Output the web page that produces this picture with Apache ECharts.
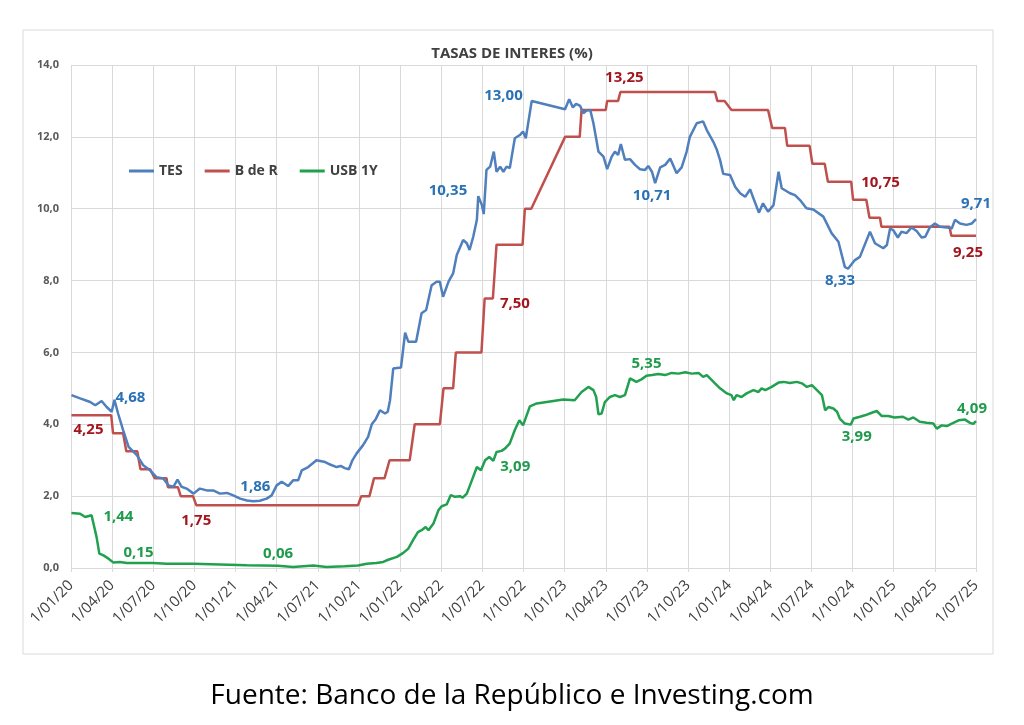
<!DOCTYPE html>
<html>
<head>
<meta charset="utf-8">
<title>Tasas de interés</title>
<script src="https://cdn.jsdelivr.net/npm/echarts@6/dist/echarts.min.js"></script>
<style>
html, body { margin: 0; padding: 0; background: #fff; }
#chart { width: 1024px; height: 725px; }
</style>
</head>
<body>
<div id="chart"></div>
<script>
// TES (rendimiento), observaciones
var tesDates = [
	'2020-01-02','2020-01-21','2020-02-13','2020-02-24','2020-03-08','2020-03-19','2020-03-30','2020-04-06','2020-04-14','2020-04-25',
	'2020-05-07','2020-05-25','2020-06-09','2020-06-24','2020-07-08','2020-07-23','2020-08-04','2020-08-15','2020-08-24','2020-09-03',
	'2020-09-14','2020-09-29','2020-10-13','2020-10-28','2020-11-12','2020-11-27','2020-12-12','2020-12-26','2021-01-11','2021-01-26',
	'2021-02-10','2021-02-24','2021-03-09','2021-03-20','2021-04-01','2021-04-12','2021-04-26','2021-05-07','2021-05-18','2021-05-26',
	'2021-06-10','2021-06-28','2021-07-17','2021-07-28','2021-08-12','2021-08-21','2021-08-30','2021-09-09','2021-09-16','2021-09-26',
	'2021-10-10','2021-10-21','2021-10-29','2021-11-08','2021-11-17','2021-11-28','2021-12-04','2021-12-09','2021-12-16','2022-01-03',
	'2022-01-12','2022-01-19','2022-02-06','2022-02-18','2022-02-28','2022-03-10','2022-03-21','2022-03-28','2022-04-05','2022-04-17',
	'2022-04-27','2022-05-05','2022-05-19','2022-05-27','2022-06-03','2022-06-11','2022-06-19','2022-06-22','2022-06-30','2022-07-04',
	'2022-07-10','2022-07-18','2022-07-26','2022-08-02','2022-08-10','2022-08-17','2022-08-24','2022-09-01','2022-09-12','2022-09-23',
	'2022-09-30','2022-10-06','2022-10-19','2023-01-02','2023-01-11','2023-01-19','2023-01-26','2023-02-05','2023-02-12','2023-02-19',
	'2023-02-27','2023-03-04','2023-03-15','2023-03-26','2023-04-04','2023-04-14','2023-04-21','2023-04-28','2023-05-04','2023-05-13',
	'2023-05-24','2023-06-05','2023-06-16','2023-06-27','2023-07-04','2023-07-12','2023-07-19','2023-07-30','2023-08-11','2023-08-22',
	'2023-09-06','2023-09-17','2023-09-28','2023-10-05','2023-10-20','2023-11-04','2023-11-12','2023-11-26','2023-12-04','2023-12-11',
	'2023-12-18','2024-01-03','2024-01-14','2024-01-25','2024-02-06','2024-02-17','2024-02-24','2024-03-06','2024-03-15','2024-03-26',
	'2024-04-08','2024-04-19','2024-04-26','2024-05-14','2024-05-25','2024-06-06','2024-06-20','2024-07-05','2024-07-27','2024-08-15',
	'2024-08-30','2024-09-14','2024-09-21','2024-10-06','2024-10-17','2024-11-09','2024-11-20','2024-12-08','2024-12-16','2024-12-23',
	'2024-12-30','2025-01-10','2025-01-18','2025-01-29','2025-02-10','2025-02-21','2025-03-02','2025-03-10','2025-03-20','2025-04-01',
	'2025-04-12','2025-04-27','2025-05-08','2025-05-15','2025-05-26','2025-06-10','2025-06-22','2025-07-01'
];
var tesValues = [
	4.81, 4.72, 4.62, 4.53, 4.65, 4.48, 4.35, 4.68, 4.30, 3.84,
	3.37, 3.14, 2.86, 2.72, 2.53, 2.49, 2.30, 2.26, 2.46, 2.26,
	2.21, 2.07, 2.21, 2.16, 2.16, 2.07, 2.09, 2.02, 1.93, 1.88,
	1.86, 1.87, 1.93, 2.02, 2.30, 2.40, 2.28, 2.44, 2.44, 2.72,
	2.81, 3.00, 2.95, 2.88, 2.81, 2.84, 2.78, 2.75, 2.98, 3.19,
	3.42, 3.65, 4.00, 4.15, 4.39, 4.30, 4.35, 4.67, 5.55, 5.58,
	6.55, 6.30, 6.30, 7.09, 7.18, 7.87, 7.97, 7.97, 7.55, 7.97,
	8.20, 8.71, 9.13, 9.04, 8.85, 9.22, 9.69, 10.35, 10.10, 9.85,
	11.08, 11.17, 11.59, 11.03, 11.17, 11.03, 11.17, 11.13, 11.96, 12.05,
	12.15, 11.96, 13.00, 12.77, 13.05, 12.82, 12.92, 12.86, 12.66, 12.73,
	12.75, 12.38, 11.59, 11.45, 11.10, 11.45, 11.59, 11.50, 11.80, 11.36,
	11.38, 11.22, 11.10, 11.08, 11.19, 11.03, 10.71, 11.15, 11.22, 11.40,
	10.99, 11.15, 11.59, 12.00, 12.38, 12.43, 12.19, 11.87, 11.64, 11.36,
	10.97, 10.94, 10.61, 10.43, 10.33, 10.54, 10.29, 9.89, 10.15, 9.92,
	10.10, 11.03, 10.57, 10.43, 10.38, 10.24, 10.01, 9.98, 9.78, 9.32,
	9.08, 8.38, 8.33, 8.57, 8.66, 9.36, 9.04, 8.90, 8.99, 9.45,
	9.40, 9.20, 9.36, 9.32, 9.48, 9.38, 9.20, 9.22, 9.48, 9.59,
	9.50, 9.48, 9.45, 9.69, 9.59, 9.55, 9.59, 9.71
];
var tesLabelDates = ['2020-04-06', '2021-02-10', '2022-06-22', '2022-10-19', '2023-07-19', '2024-09-21', '2025-07-01'];

// Tasa de política del Banco de la República
var bdrDates = [
	'2020-01-02','2020-03-29','2020-04-03','2020-04-25','2020-05-02','2020-05-26','2020-06-03','2020-06-24','2020-07-04','2020-07-30',
	'2020-08-03','2020-08-25','2020-09-01','2020-09-28','2020-10-05','2021-09-29','2021-10-06','2021-10-24','2021-11-04','2021-11-27',
	'2021-12-08','2022-01-22','2022-02-03','2022-03-28','2022-04-06','2022-04-27','2022-05-03','2022-06-29','2022-07-06','2022-07-24',
	'2022-08-02','2022-09-29','2022-10-04','2022-10-18','2023-01-02','2023-02-04','2023-02-08','2023-04-01','2023-04-04','2023-04-28',
	'2023-05-03','2023-11-30','2023-12-05','2023-12-21','2024-01-06','2024-03-26','2024-04-05','2024-05-03','2024-05-08','2024-06-27',
	'2024-07-03','2024-07-30','2024-08-07','2024-09-28','2024-10-02','2024-11-01','2024-11-08','2024-12-01','2024-12-04','2025-05-03',
	'2025-05-07','2025-07-01'
];
var bdrValues = [
	4.25, 4.25, 3.75, 3.75, 3.25, 3.25, 2.75, 2.75, 2.50, 2.50,
	2.25, 2.25, 2.00, 2.00, 1.75, 1.75, 2.00, 2.00, 2.50, 2.50,
	3.00, 3.00, 4.00, 4.00, 5.00, 5.00, 6.00, 6.00, 7.50, 7.50,
	9.00, 9.00, 10.00, 10.00, 12.00, 12.00, 12.75, 12.75, 13.00, 13.00,
	13.25, 13.25, 13.00, 13.00, 12.75, 12.75, 12.25, 12.25, 11.75, 11.75,
	11.25, 11.25, 10.75, 10.75, 10.25, 10.25, 9.75, 9.75, 9.50, 9.50,
	9.25, 9.25
];
var bdrLabelDates = ['2020-01-02', '2020-10-05', '2022-07-24', '2023-05-03', '2024-09-28', '2025-07-01'];

// Bono del Tesoro EE.UU. a 1 año
var usbDates = [
	'2020-01-02','2020-01-21','2020-02-02','2020-02-16','2020-02-20','2020-02-27','2020-03-03','2020-03-12','2020-03-23','2020-04-04',
	'2020-04-18','2020-05-03','2020-06-02','2020-07-01','2020-07-30','2020-09-29','2020-11-27','2021-01-26','2021-04-04','2021-05-07',
	'2021-06-21','2021-07-20','2021-08-30','2021-09-29','2021-10-18','2021-11-09','2021-11-24','2021-12-05','2021-12-24','2022-01-08',
	'2022-01-19','2022-01-30','2022-02-10','2022-02-20','2022-02-27','2022-03-03','2022-03-14','2022-03-25','2022-04-02','2022-04-13',
	'2022-04-22','2022-05-01','2022-05-12','2022-05-18','2022-05-27','2022-06-08','2022-06-19','2022-06-28','2022-07-07','2022-07-16',
	'2022-07-25','2022-08-02','2022-08-13','2022-08-21','2022-09-01','2022-09-12','2022-09-22','2022-09-30','2022-10-15','2022-10-30',
	'2022-12-28','2023-01-23','2023-02-08','2023-02-12','2023-02-23','2023-03-04','2023-03-10','2023-03-15','2023-03-22','2023-03-29',
	'2023-04-10','2023-04-21','2023-05-02','2023-05-13','2023-05-24','2023-06-08','2023-06-19','2023-06-30','2023-07-12','2023-07-26',
	'2023-08-11','2023-08-25','2023-09-10','2023-09-25','2023-10-09','2023-10-24','2023-11-04','2023-11-12','2023-11-23','2023-11-30',
	'2023-12-11','2023-12-26','2024-01-06','2024-01-11','2024-01-17','2024-01-28','2024-02-09','2024-02-24','2024-03-05','2024-03-12',
	'2024-03-20','2024-04-04','2024-04-19','2024-04-30','2024-05-14','2024-05-29','2024-06-10','2024-06-21','2024-07-02','2024-07-13',
	'2024-07-24','2024-07-31','2024-08-08','2024-08-19','2024-08-27','2024-09-03','2024-09-14','2024-09-27','2024-10-03','2024-10-17',
	'2024-10-28','2024-11-13','2024-11-24','2024-12-05','2024-12-19','2025-01-03','2025-01-21','2025-02-03','2025-02-14','2025-02-28',
	'2025-03-13','2025-03-28','2025-04-05','2025-04-16','2025-04-27','2025-05-08','2025-05-23','2025-06-07','2025-06-18','2025-06-25',
	'2025-07-01'
];
var usbValues = [
	1.53, 1.51, 1.42, 1.47, 1.44, 0.86, 0.40, 0.35, 0.26, 0.15,
	0.17, 0.14, 0.14, 0.14, 0.12, 0.12, 0.10, 0.08, 0.06, 0.03,
	0.07, 0.03, 0.05, 0.07, 0.12, 0.14, 0.17, 0.23, 0.31, 0.42,
	0.54, 0.79, 1.00, 1.07, 1.14, 1.05, 1.24, 1.61, 1.72, 1.77,
	2.03, 1.98, 2.00, 1.96, 2.07, 2.44, 2.81, 2.72, 3.00, 3.09,
	2.98, 3.23, 3.26, 3.33, 3.47, 3.84, 4.11, 3.97, 4.50, 4.58,
	4.69, 4.67, 4.90, 4.95, 5.04, 4.95, 4.76, 4.28, 4.30, 4.62,
	4.76, 4.81, 4.76, 4.81, 5.28, 5.18, 5.25, 5.35, 5.37, 5.40,
	5.37, 5.43, 5.41, 5.45, 5.41, 5.43, 5.32, 5.37, 5.23, 5.14,
	5.00, 4.86, 4.81, 4.67, 4.81, 4.76, 4.86, 4.95, 4.90, 5.00,
	4.95, 5.04, 5.16, 5.18, 5.15, 5.18, 5.14, 5.04, 5.09, 4.95,
	4.81, 4.39, 4.48, 4.44, 4.35, 4.16, 4.02, 3.99, 4.16, 4.21,
	4.25, 4.32, 4.37, 4.23, 4.23, 4.19, 4.21, 4.13, 4.19, 4.07,
	4.04, 4.02, 3.88, 3.97, 3.95, 4.02, 4.11, 4.13, 4.04, 4.01,
	4.09
];
var usbLabelDates = ['2020-02-20', '2020-04-04', '2021-04-04', '2022-07-16', '2023-06-30', '2024-09-27', '2025-07-01'];

var seriesNames = ['TES', 'B de R', 'USB 1Y'];

// meses desde 1/01/20
function toMonths(d) {
	var p = d.split('-');
	return (p[0] - 2020) * 12 + (p[1] - 1) + (p[2] - 1) / 30;
}

function pairs(dates, values) {
	return dates.map(function (d, i) { return [toMonths(d), values[i]]; });
}

function fmt(v) {
	return v.toFixed(2).replace('.', ',');
}

function labelPoints(dates, values, labelDates, place) {
	return labelDates.map(function (d) {
		var i = dates.indexOf(d);
		var pl = place[d];
		return {
			coord: [toMonths(d), values[i]],
			value: values[i],
			label: { position: pl[0], offset: pl[1] }
		};
	});
}

var font = '"Open Sans", "DejaVu Sans", sans-serif';

function marks(data, color) {
	return {
		symbol: 'circle',
		symbolSize: 0,
		silent: true,
		label: {
			show: true,
			color: color,
			fontFamily: font,
			fontWeight: 'bold',
			fontSize: 15,
			formatter: function (p) { return fmt(p.value); }
		},
		data: data
	};
}

var tesPlace = {
	'2020-04-06': ['right', [-4, -2]],
	'2021-02-10': ['top', [2, -2]],
	'2022-06-22': ['left', [-6, -5]],
	'2022-10-19': ['left', [-4, -5]],
	'2023-07-19': ['bottom', [-3, 0]],
	'2024-09-21': ['bottom', [-8, 0]],
	'2025-07-01': ['top', [0, -3]]
};
var bdrPlace = {
	'2020-01-02': ['bottom', [17, 2]],
	'2020-10-05': ['bottom', [0, 3]],
	'2022-07-24': ['right', [2, 5]],
	'2023-05-03': ['top', [4, -2]],
	'2024-09-28': ['right', [5, 1]],
	'2025-07-01': ['bottom', [-8, 5]]
};
var usbPlace = {
	'2020-02-20': ['right', [5, 0]],
	'2020-04-04': ['right', [5, -10]],
	'2021-04-04': ['top', [0, 0]],
	'2022-07-16': ['right', [6, 10]],
	'2023-06-30': ['top', [0, 0]],
	'2024-09-27': ['bottom', [6, 0]],
	'2025-07-01': ['top', [-4, 0]]
};

var chart = echarts.init(document.getElementById('chart'), null, { renderer: 'canvas' });

chart.setOption({
	animation: false,
	backgroundColor: '#ffffff',
	title: {
		text: 'TASAS DE INTERES (%)',
		left: 'center',
		top: 41,
		textStyle: { fontFamily: font, fontSize: 15, fontWeight: 'bold', color: '#404040' }
	},
	legend: {
		data: seriesNames,
		left: 124,
		top: 159,
		icon: 'rect',
		itemWidth: 25,
		itemHeight: 3,
		itemGap: 22,
		textStyle: { fontFamily: font, fontSize: 14, fontWeight: 'bold', color: '#404040' }
	},
	graphic: [{
		type: 'rect',
		shape: { x: 23, y: 30, width: 970, height: 624 },
		style: { fill: 'none', stroke: '#d9d9d9', lineWidth: 1 },
		silent: true
	}, {
		type: 'text',
		left: 'center',
		top: 682,
		style: {
			text: 'Fuente: Banco de la Repúblico e Investing.com',
			font: '28px "Open Sans", sans-serif',
			fill: '#000000'
		}
	}],
	grid: { left: 71, right: 48, top: 65, bottom: 157 },
	xAxis: {
		type: 'value',
		min: 0,
		max: 66,
		interval: 3,
		axisLine: { show: false },
		axisTick: { show: true, length: 4, lineStyle: { color: '#d9d9d9' } },
		splitLine: { show: true, lineStyle: { color: '#d9d9d9', width: 1 } },
		axisLabel: {
			rotate: 45,
			margin: 15,
			color: '#404040',
			fontFamily: font,
			fontSize: 15,
			formatter: function (v) {
				var yr = 20 + Math.floor(v / 12);
				var mo = v % 12 + 1;
				return '1/' + (mo < 10 ? '0' + mo : mo) + '/' + yr;
			}
		}
	},
	yAxis: {
		type: 'value',
		min: 0,
		max: 14,
		interval: 2,
		axisLine: { show: false },
		axisTick: { show: false },
		splitLine: { lineStyle: { color: '#d9d9d9', width: 1 } },
		axisLabel: {
			margin: 12,
			color: '#595959',
			fontFamily: font,
			fontSize: 11,
			fontWeight: 'bold',
			formatter: function (v) { return v.toFixed(1).replace('.', ','); }
		}
	},
	series: [{
		name: seriesNames[0],
		type: 'line',
		data: pairs(tesDates, tesValues),
		showSymbol: false,
		color: '#4f7fbc',
		lineStyle: { width: 2.5, color: '#4f7fbc' },
		z: 4,
		markPoint: marks(labelPoints(tesDates, tesValues, tesLabelDates, tesPlace), '#2a72b5')
	}, {
		name: seriesNames[1],
		type: 'line',
		data: pairs(bdrDates, bdrValues),
		showSymbol: false,
		color: '#c0504d',
		lineStyle: { width: 2.5, color: '#c0504d' },
		z: 3,
		markPoint: marks(labelPoints(bdrDates, bdrValues, bdrLabelDates, bdrPlace), '#a3161d')
	}, {
		name: seriesNames[2],
		type: 'line',
		data: pairs(usbDates, usbValues),
		showSymbol: false,
		color: '#21a04f',
		lineStyle: { width: 2.5, color: '#21a04f' },
		z: 3,
		markPoint: marks(labelPoints(usbDates, usbValues, usbLabelDates, usbPlace), '#1e9b4b')
	}]
});
</script>
</body>
</html>
